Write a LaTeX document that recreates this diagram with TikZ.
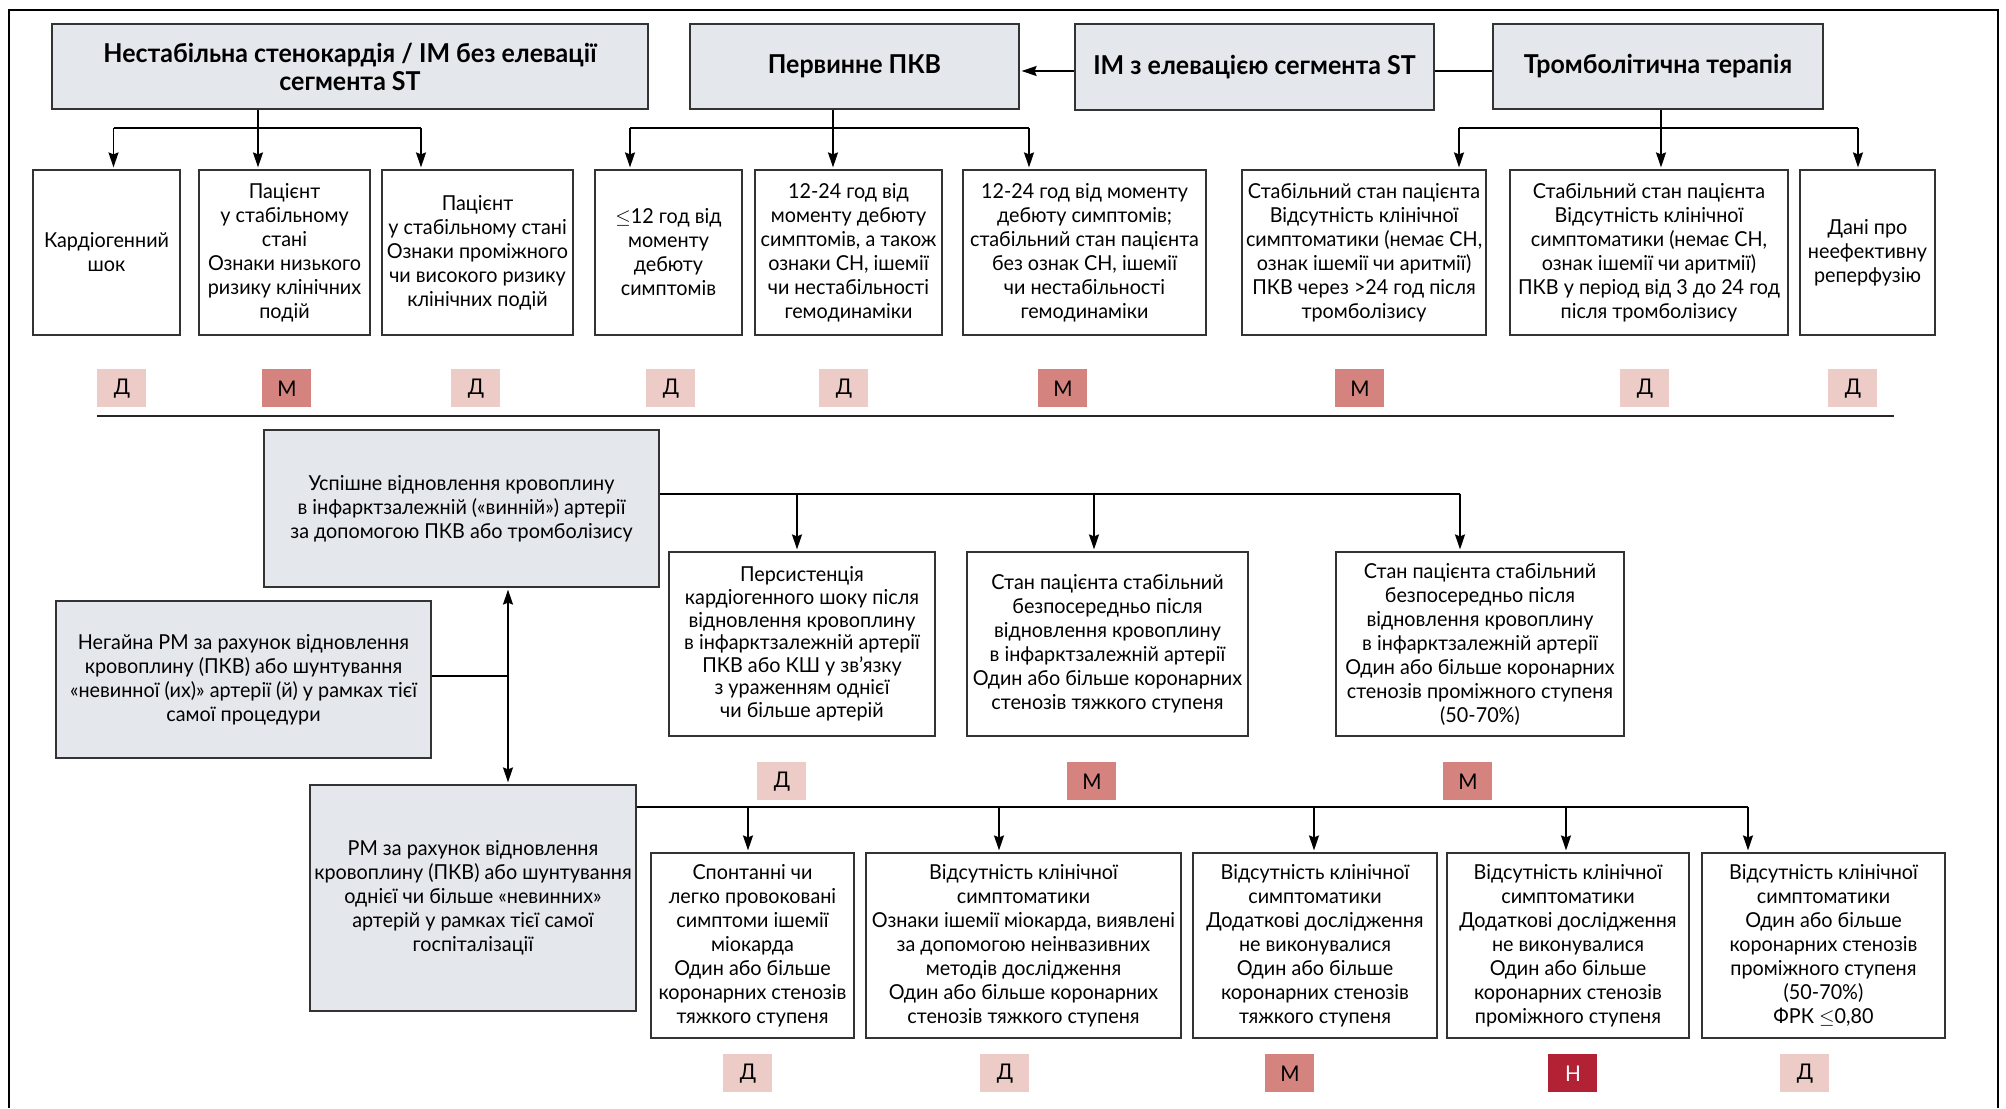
\documentclass[tikz,border=0pt]{standalone}
\usepackage{fontspec}
\setmainfont{Lato}[FakeStretch=0.96]
\usetikzlibrary{arrows.meta}
\definecolor{boxgray}{RGB}{228,231,236}
\definecolor{bD}{RGB}{237,204,199}
\definecolor{bM}{RGB}{212,131,127}
\definecolor{bN}{RGB}{178,34,52}
\newcommand\bodyf{\fontsize{10.3}{12}\selectfont}
\newcommand\tightf{\fontsize{10.3}{11.3}\selectfont}
\newcommand\headf{\bfseries\fontsize{13}{14}\selectfont}
\newcommand\bx[7]{\node[#6, minimum width={(#4-#2)*0.5pt}, minimum height={(#5-#3)*0.5pt}, anchor=north west] (#1) at (#2,#3) {#7};}
\newcommand\bdg[4]{\node[badge, fill=#3, anchor=north west] (#1) at (#2) {#4};}
\begin{document}
\begin{tikzpicture}[x=0.5pt,y=-0.5pt,
  hbox/.style={draw=black!80, line width=1pt, fill=boxgray, align=center, inner sep=2pt, font=\headf},
  gbox/.style={draw=black!80, line width=1pt, fill=boxgray, align=center, inner sep=2pt, font=\bodyf},
  wbox/.style={draw=black!80, line width=1pt, fill=white, align=center, inner sep=2pt, font=\bodyf},
  badge/.style={minimum width=24.5pt, minimum height=19pt, inner sep=0pt, font=\fontsize{10.8}{12}\selectfont},
  conn/.style={draw=black, line width=0.8pt},
  arr/.style={conn, -{Stealth[length=7.5pt,width=5pt,inset=1pt]}, shorten >=0.8pt},
  darr/.style={conn, {Stealth[length=7.5pt,width=5pt,inset=1pt]}-{Stealth[length=7.5pt,width=5pt,inset=1pt]}, shorten >=0.8pt, shorten <=0.8pt}]
\useasboundingbox (0,0) rectangle (2006,1108);
\fill[white] (0,0) rectangle (2006,1108);
% frame
\draw[black, line width=0.8pt] (9,1108) -- (9,10) -- (1998,10) -- (1998,1108);

% headers
\bx{A}{51}{23}{647}{108}{hbox}{Нестабільна стенокардія / ІМ без елевації\\сегмента ST}
\bx{B}{689}{23}{1018}{108}{hbox}{Первинне ПКВ}
\bx{C}{1074}{23}{1433}{109}{hbox}{ІМ з елевацією сегмента ST}
\bx{D}{1492}{23}{1822}{108}{hbox}{Тромболітична терапія}

\draw[arr] (C.west |- 0,71) -- (B.east |- 0,71);
\draw[conn] (D.west |- 0,71) -- (C.east |- 0,71);

% row 2
\bx{b1}{32}{169}{179}{334}{wbox}{Кардіогенний\\шок}
\bx{b2}{198}{169}{369}{334}{wbox}{Пацієнт\\у стабільному\\стані\\Ознаки низького\\ризику клінічних\\подій}
\bx{b3}{381}{169}{572}{334}{wbox}{Пацієнт\\у стабільному стані\\Ознаки проміжного\\чи високого ризику\\клінічних подій}
\bx{b4}{594}{169}{741}{334}{wbox}{$\le$12 год від\\моменту\\дебюту\\симптомів}
\bx{b5}{754}{169}{941}{334}{wbox}{12-24 год від\\моменту дебюту\\симптомів, а також\\ознаки СН, ішемії\\чи нестабільності\\гемодинаміки}
\bx{b6}{962}{169}{1205}{334}{wbox}{12-24 год від моменту\\дебюту симптомів;\\стабільний стан пацієнта\\без ознак СН, ішемії\\чи нестабільності\\гемодинаміки}
\bx{b7}{1241}{169}{1485}{334}{wbox}{Стабільний стан пацієнта\\Відсутність клінічної\\симптоматики (немає СН,\\ознак ішемії чи аритмії)\\ПКВ через >24 год після\\тромболізису}
\bx{b8}{1509}{169}{1787}{334}{wbox}{Стабільний стан пацієнта\\Відсутність клінічної\\симптоматики (немає СН,\\ознак ішемії чи аритмії)\\ПКВ у період від 3 до 24 год\\після тромболізису}
\bx{b9}{1799}{169}{1934}{334}{wbox}{Дані про\\неефективну\\реперфузію}

% connectors row1 -> row2
\draw[arr] (258,0 |- A.south) -- (258,0 |- b2.north);
\draw[conn] (113.5,128) -- (421,128);
\draw[arr] (113.5,128) -- (113.5,0 |- b1.north);
\draw[arr] (421,128) -- (421,0 |- b3.north);

\draw[arr] (833,0 |- B.south) -- (833,0 |- b5.north);
\draw[conn] (630,128) -- (1029,128);
\draw[arr] (630,128) -- (630,0 |- b4.north);
\draw[arr] (1029,128) -- (1029,0 |- b6.north);

\draw[arr] (1661,0 |- D.south) -- (1661,0 |- b8.north);
\draw[conn] (1459,128) -- (1858,128);
\draw[arr] (1459,128) -- (1459,0 |- b7.north);
\draw[arr] (1858,128) -- (1858,0 |- b9.north);

% badges row 1
\bdg{r1}{97,369}{bD}{Д}
\bdg{r2}{262,369}{bM}{М}
\bdg{r3}{451,369}{bD}{Д}
\bdg{r4}{646,369}{bD}{Д}
\bdg{r5}{819,369}{bD}{Д}
\bdg{r6}{1038,369}{bM}{М}
\bdg{r7}{1335,369}{bM}{М}
\bdg{r8}{1620,369}{bD}{Д}
\bdg{r9}{1828,369}{bD}{Д}

% separator
\draw[black!85, line width=1pt] (97,416) -- (1894,416);

% middle
\bx{E}{263}{429}{658}{586}{gbox}{Успішне відновлення кровоплину\\в інфарктзалежній («винній») артерії\\за допомогою ПКВ або тромболізису}
\bx{F}{55}{600}{430}{757}{gbox}{Негайна РМ за рахунок відновлення\\кровоплину (ПКВ) або шунтування\\«невинної (их)» артерії (й) у рамках тієї\\самої процедури}
\bx{G}{309}{784}{635}{1010}{gbox}{РМ за рахунок відновлення\\кровоплину (ПКВ) або шунтування\\однієї чи більше «невинних»\\артерій у рамках тієї самої\\госпіталізації}

\bx{H}{668}{551}{934}{735}{wbox,font=\tightf}{Персистенція\\кардіогенного шоку після\\відновлення кровоплину\\в інфарктзалежній артерії\\ПКВ або КШ у зв’язку\\з ураженням однієї\\чи більше артерій}
\bx{I}{966}{551}{1247}{735}{wbox}{Стан пацієнта стабільний\\безпосередньо після\\відновлення кровоплину\\в інфарктзалежній артерії\\Один або більше коронарних\\стенозів тяжкого ступеня}
\bx{J}{1335}{551}{1623}{735}{wbox}{Стан пацієнта стабільний\\безпосередньо після\\відновлення кровоплину\\в інфарктзалежній артерії\\Один або більше коронарних\\стенозів проміжного ступеня\\(50-70\%)}

\draw[conn] (E.east |- 0,494) -- (1460,494);
\draw[arr] (797,494) -- (797,0 |- H.north);
\draw[arr] (1094,494) -- (1094,0 |- I.north);
\draw[arr] (1460,494) -- (1460,0 |- J.north);

\draw[darr] (508,0 |- E.south) -- (508,0 |- G.north);
\draw[conn] (F.east |- 0,676) -- (508,676);

\bdg{m1}{757,762}{bD}{Д}
\bdg{m2}{1067,762}{bM}{М}
\bdg{m3}{1443,762}{bM}{М}

% bottom
\bx{K}{650}{852}{853}{1037}{wbox}{Спонтанні чи\\легко провоковані\\симптоми ішемії\\міокарда\\Один або більше\\коронарних стенозів\\тяжкого ступеня}
\bx{L}{865}{852}{1180}{1037}{wbox}{Відсутність клінічної\\симптоматики\\Ознаки ішемії міокарда, виявлені\\за допомогою неінвазивних\\методів дослідження\\Один або більше коронарних\\стенозів тяжкого ступеня}
\bx{M}{1192}{852}{1436}{1037}{wbox}{Відсутність клінічної\\симптоматики\\Додаткові дослідження\\не виконувалися\\Один або більше\\коронарних стенозів\\тяжкого ступеня}
\bx{N}{1446}{852}{1688}{1037}{wbox}{Відсутність клінічної\\симптоматики\\Додаткові дослідження\\не виконувалися\\Один або більше\\коронарних стенозів\\проміжного ступеня}
\bx{O}{1701}{852}{1944}{1037}{wbox}{Відсутність клінічної\\симптоматики\\Один або більше\\коронарних стенозів\\проміжного ступеня\\(50-70\%)\\ФРК $\le$0,80}

\draw[conn] (G.east |- 0,807) -- (1748,807);
\draw[arr] (748,807) -- (748,0 |- K.north);
\draw[arr] (999,807) -- (999,0 |- L.north);
\draw[arr] (1314,807) -- (1314,0 |- M.north);
\draw[arr] (1566,807) -- (1566,0 |- N.north);
\draw[arr] (1748,807) -- (1748,0 |- O.north);

\bdg{d1}{723,1054}{bD}{Д}
\bdg{d2}{980,1054}{bD}{Д}
\bdg{d3}{1265,1054}{bM}{М}
\bdg{d4}{1548,1054}{bN}{\textcolor{white}{Н}}
\bdg{d5}{1780,1054}{bD}{Д}
\end{tikzpicture}
\end{document}
